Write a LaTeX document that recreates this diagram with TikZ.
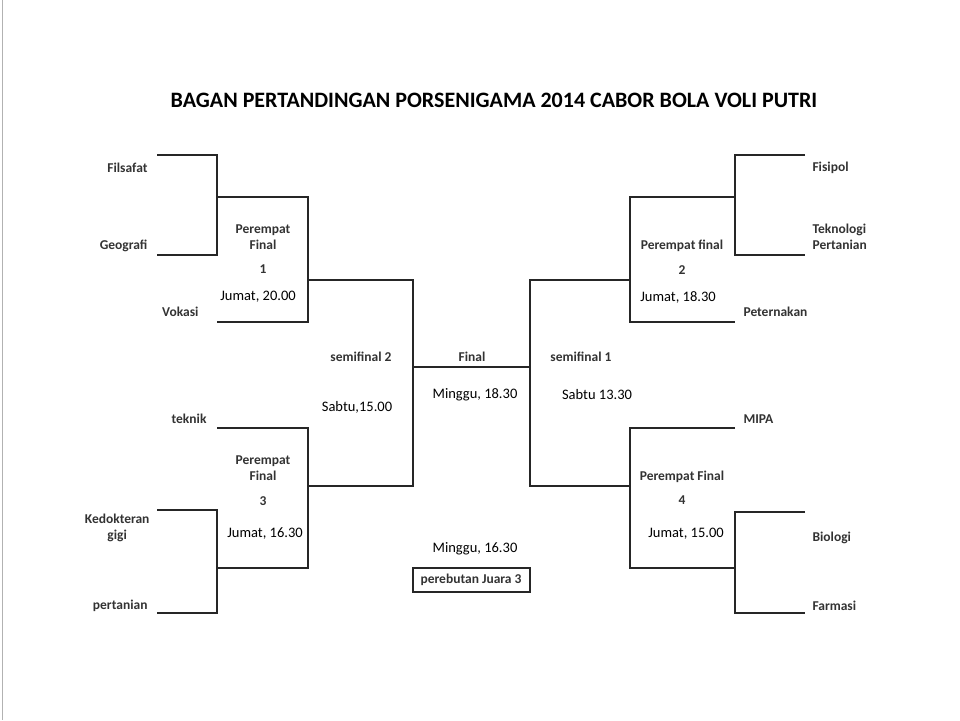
\documentclass[tikz,border=0pt]{standalone}
\usepackage{fontspec}
\setmainfont{Carlito}
\begin{document}
\begin{tikzpicture}[x=1pt,y=-1pt,br/.style={line width=1.3pt,draw=black!85},
 tm/.style={font=\bfseries\fontsize{13.5}{16}\selectfont,text=black!80,align=center},
 tt/.style={font=\fontsize{14.5}{17}\selectfont}]
\useasboundingbox (0,0) rectangle (960,720);
\draw[black!30] (2,0) -- (2,720);
\node[font=\bfseries\fontsize{22}{26}\selectfont] (title) at (494,100) {BAGAN PERTANDINGAN PORSENIGAMA 2014 CABOR BOLA VOLI PUTRI};
% left top
\draw[br] (157,155) -- (217,155) -- (217,255) -- (157,255);
\draw[br] (217,197) -- (308,197) -- (308,322) -- (217,322);
\draw[br] (308,280) -- (413,280) -- (413,486) -- (308,486);
% left bottom
\draw[br] (217,428) -- (308,428) -- (308,568) -- (217,568);
\draw[br] (157,510) -- (217,510) -- (217,613) -- (157,613);
% final
\draw[br] (413,367) -- (530,367);
% right
\draw[br] (805,155) -- (735,155) -- (735,255) -- (805,255);
\draw[br] (735,197) -- (630,197) -- (630,322) -- (735,322);
\draw[br] (630,280) -- (530,280) -- (530,486) -- (630,486);
\draw[br] (735,428) -- (630,428) -- (630,568) -- (735,568);
\draw[br] (805,512) -- (735,512) -- (735,613) -- (805,613);
% third place box
\draw[br] (413,568) rectangle (530,592);
\node[tm] (j3) at (471,580) {perebutan Juara 3};
% team names
\node[tm,anchor=east] (filsafat) at (151,168) {Filsafat};
\node[tm,anchor=east] (geografi) at (151,246) {Geografi};
\node[tm,anchor=east] (vokasi) at (202,312) {Vokasi};
\node[tm,anchor=east] (teknik) at (210,419) {teknik};
\node[tm,anchor=east] (kg) at (153,528) {Kedokteran\\gigi};
\node[tm,anchor=east] (pertanian) at (151,606) {pertanian};
\node[tm,anchor=west] (fisipol) at (809,168) {Fisipol};
\node[tm,anchor=west,align=left] (tp) at (809,237) {Teknologi\\Pertanian};
\node[tm,anchor=west] (pet) at (740,312) {Peternakan};
\node[tm,anchor=west] (mipa) at (740,419) {MIPA};
\node[tm,anchor=west] (bio) at (809,538) {Biologi};
\node[tm,anchor=west] (far) at (809,606) {Farmasi};
% round labels
\node[tm] (qf1) at (263,237) {Perempat\\Final};
\node[tm] (qf1n) at (263,269) {1};
\node[tt] (qf1t) at (258,297) {Jumat, 20.00};
\node[tm] (qf3) at (263,468) {Perempat\\Final};
\node[tm] (qf3n) at (263,501) {3};
\node[tt] (qf3t) at (265,534) {Jumat, 16.30};
\node[tm] (qf2) at (682,246) {Perempat final};
\node[tm] (qf2n) at (682,270) {2};
\node[tt] (qf2t) at (678,297) {Jumat, 18.30};
\node[tm] (qf4) at (682,477) {Perempat Final};
\node[tm] (qf4n) at (682,500) {4};
\node[tt] (qf4t) at (686,534) {Jumat, 15.00};
\node[tm] (sf2) at (361,357) {semifinal 2};
\node[tt] (sf2t) at (357,407) {Sabtu,15.00};
\node[tm] (sf1) at (581,357) {semifinal 1};
\node[tt] (sf1t) at (597,395) {Sabtu 13.30};
\node[tm] (fin) at (472,357) {Final};
\node[tt] (fint) at (475,395) {Minggu, 18.30};
\node[tt] (j3t) at (475,549) {Minggu, 16.30};
\end{tikzpicture}
\end{document}
